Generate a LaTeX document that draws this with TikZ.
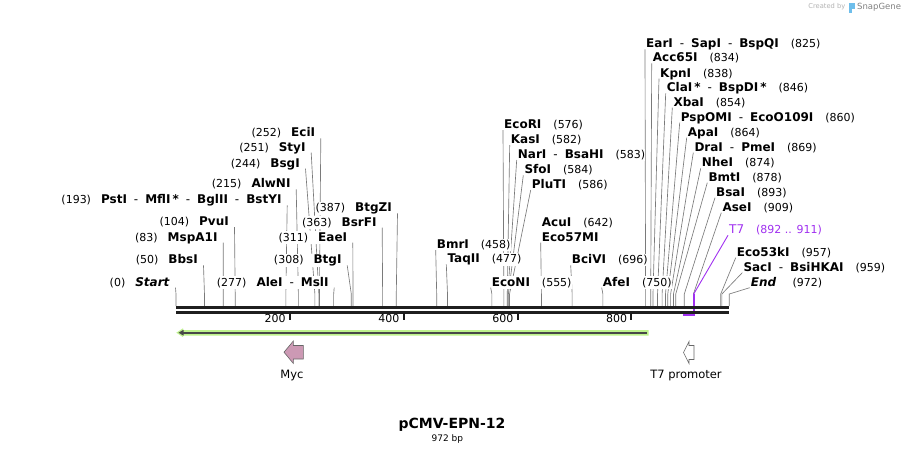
\documentclass[tikz,border=0pt]{standalone}
\usepackage{fontspec}
\setmainfont{DejaVu Sans}
\usetikzlibrary{arrows.meta,calc,backgrounds}

\definecolor{orfgreen}{RGB}{190,242,140}
\definecolor{orfdark}{RGB}{72,72,72}
\definecolor{mycpink}{RGB}{204,153,180}
\definecolor{primerpurple}{RGB}{160,48,240}
\definecolor{sglogo}{RGB}{110,190,235}

\newcommand\bpnum[1]{{\fontsize{11}{12}\selectfont\mdseries(#1)}}
\newcommand\sepd{\hspace{7pt}{\mdseries-}\hspace{7pt}}
\newcommand\sitex[1]{176+0.5692*#1}

\tikzset{
  enzl/.style={anchor=base east, inner xsep=0pt, inner ysep=1pt, fill=white,
    font=\fontsize{12}{14}\selectfont\bfseries},
  enzr/.style={enzl, anchor=base west},
  cutline/.style={draw=black!52, line width=0.65pt},
  bb/.style={line width=3pt, black!88},
  tick/.style={line width=2pt, black!90},
  ticklbl/.style={anchor=base east, inner sep=0pt, font=\fontsize{11}{12}\selectfont},
  feat/.style={draw=black!60, line width=0.6pt},
  featlbl/.style={font=\fontsize{11.5}{13}\selectfont, inner sep=0pt},
}

\begin{document}
\begin{tikzpicture}[x=1pt,y=-1pt]
  \useasboundingbox (0,0) rectangle (906,456);
  % backbone
  \draw[bb] (176,307.5) -- (729.3,307.5);
  \draw[bb] (176,312) -- (729.3,312);
  \foreach \t in {200,400,600,800}{
    \draw[tick] ({\sitex{\t}},313) -- ++(0,6.5);
    \node[ticklbl] (tk\t) at ({\sitex{\t}-4},322) {\t};
  }
  % sites labelled on the left
  \foreach \n/\p/\x/\y/\txt in {
    eci/252/315.3/136.8/EciI,
    sty/251/305.7/151.2/StyI,
    bsg/244/300/167.2/BsgI,
    alwn/215/290.7/187.8/AlwNI,
    pst/193/281.7/203.8/PstI\sepd MflI\,*\sepd BglII\sepd BstYI,
    pvu/104/229/225.5/PvuI,
    mspa/83/217.7/241.2/MspA1I,
    bbs/50/198/263.8/BbsI,
    start/0/170/286.2/\textit{Start},
    ale/277/328.7/286.2/AleI\sepd MslI,
    btg/308/341.7/263.8/BtgI,
    eae/311/347.3/241.2/EaeI,
    bsrf/363/376.7/226.2/BsrFI,
    btgz/387/392/211.8/BtgZI
  }{
    \node[enzl] (\n) at (\x,\y) {\bpnum{\p}\hspace{10pt}\txt};
    \coordinate (\n-s) at ({\sitex{\p}},294);
    \begin{pgfonlayer}{background}
      \draw[cutline] ($(\n.base east)+(5.5,1.5)$) -- (\n-s) -- ++(0,12);
    \end{pgfonlayer}
  }
  % sites labelled on the right
  \foreach \n/\p/\x/\y/\txt in {
    bmr/458/436.7/248.5/BmrI,
    taq/477/447.3/262.8/TaqII,
    econ/555/491.7/286.2/EcoNI,
    ecor/576/504/128.5/EcoRI,
    kas/582/510.7/143.5/KasI,
    nar/583/517.7/158.5/NarI\sepd BsaHI,
    sfo/584/524.3/173.8/SfoI,
    plut/586/531.7/188.5/PluTI,
    bciv/696/571.7/263.8/BciVI,
    afe/750/602.7/286.2/AfeI,
    ear/825/646/47.8/EarI\sepd SapI\sepd BspQI,
    acc/834/652.7/61.8/Acc65I,
    kpn/838/660/77.2/KpnI,
    cla/846/666.7/91.8/ClaI\,*\sepd BspDI\,*,
    xba/854/673.3/106.2/XbaI,
    pspo/860/680.7/121.2/PspOMI\sepd EcoO109I,
    apa/864/687.7/136.2/ApaI,
    dra/869/694.3/151.2/DraI\sepd PmeI,
    nhe/874/701.7/166.8/NheI,
    bmt/878/708.3/181.2/BmtI,
    bsa/893/716/196.2/BsaI,
    ase/909/722.3/211.2/AseI,
    eco53/957/736.7/256.2/Eco53kI,
    sac/959/743.3/271.2/SacI\sepd BsiHKAI,
    end/972/750.7/286.2/\textit{End}
  }{
    \node[enzr] (\n) at (\x,\y) {\txt\hspace{12pt}\bpnum{\p}};
    \coordinate (\n-s) at ({\sitex{\p}},294);
    \begin{pgfonlayer}{background}
      \draw[cutline] ($(\n.base west)+(-1,1.5)$) -- (\n-s) -- ++(0,12);
    \end{pgfonlayer}
  }
  % two names on one site
  \node[enzr] (acu) at (541.7,226.2) {AcuI\hspace{12pt}\bpnum{642}};
  \node[enzr] (eco57) at (541.7,241.2) {Eco57MI};
  \coordinate (eco57-s) at ({\sitex{642}},294);
  \begin{pgfonlayer}{background}
    \draw[cutline] ($(eco57.base west)+(-1,1.5)$) -- (eco57-s) -- ++(0,12);
  \end{pgfonlayer}
  % T7 primer
  \node[enzr, font=\fontsize{12}{14}\selectfont, text=primerpurple] (t7) at (729,233.8)
    {T7\hspace{12pt}\bpnum{892 .. 911}};
  \coordinate (t7-s) at (693.7,294);
  \coordinate (t7-c) at (693.7,315);
  \coordinate (t7-e) at (683.3,315);
  \begin{pgfonlayer}{background}
    \draw[primerpurple, line width=0.9pt] ($(t7.base west)+(-1,1.5)$) -- (t7-s);
    \draw[primerpurple, line width=1.6pt] (t7-s) -- (t7-c) -- (t7-e);
  \end{pgfonlayer}
  % ORF
  \fill[orfgreen] (648.5,330) -- (183,330) -- (183,328.3) -- (176.3,332.7)
    -- (183,337.1) -- (183,335.5) -- (648.5,335.5) -- cycle;
  \draw[orfdark, line width=1.8pt, -{Triangle[length=5pt,width=5.5pt]}] (646.5,332.7) -- (178.5,332.7);
  % features
  \filldraw[feat, fill=mycpink] (284,352.2) -- (293.3,341) -- (293.3,345.5) -- (303.3,345.5)
    -- (303.3,359) -- (293.3,359) -- (293.3,363.4) -- cycle;
  \node[featlbl] (myc) at (292,375) {Myc};
  \filldraw[feat, fill=white] (683.5,352.5) -- (689,341.5) -- (689,345.5) -- (694,345.5)
    -- (694,359.5) -- (689,359.5) -- (689,363.5) -- cycle;
  \node[featlbl] (t7p) at (686,375) {T7 promoter};
  % title
  \node[font=\fontsize{14}{16}\selectfont\bfseries] (title) at (452,425) {pCMV-EPN-12};
  \node[font=\fontsize{9}{10}\selectfont] (len) at (447.3,439.5) {972 bp};
  % credit
  \node[anchor=east, inner sep=0pt, text=black!30, font=\fontsize{6.7}{8}\selectfont] (credit) at (845.5,7) {Created by};
  \fill[sglogo] (849.3,2.5) rectangle (852.3,13);
  \fill[sglogo] (852.3,2.5) rectangle (854.5,8.5);
  \node[anchor=west, inner sep=0pt, text=black!50, font=\fontsize{8.5}{10}\selectfont] (sg) at (857,7.5) {SnapGene};
\end{tikzpicture}
\end{document}
